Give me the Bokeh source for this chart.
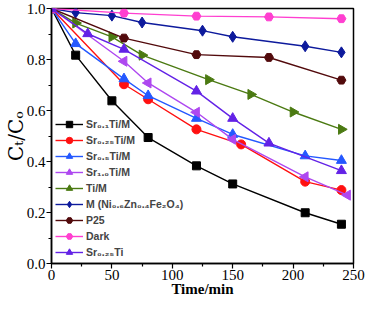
import math
from bokeh.plotting import figure
from bokeh.models import Range1d, FixedTicker, NumeralTickFormatter, Legend, LegendItem
from bokeh.embed import file_html
from bokeh.resources import INLINE

# ---- data ----
t_sr01 = [0, 20, 50, 80, 120, 150, 210, 240]
c_sr01 = [1.0, 0.817, 0.638, 0.494, 0.383, 0.312, 0.199, 0.154]

t_sr025 = [0, 60, 80, 120, 157, 210, 240]
c_sr025 = [1.0, 0.703, 0.644, 0.526, 0.467, 0.321, 0.288]

t_sr05 = [0, 20, 60, 80, 120, 150, 210, 240]
c_sr05 = [1.0, 0.862, 0.724, 0.658, 0.569, 0.506, 0.422, 0.404]

t_sr10 = [0, 60, 80, 120, 150, 210, 245]
c_sr10 = [1.0, 0.793, 0.708, 0.593, 0.487, 0.340, 0.268]

t_ti = [0, 20, 50, 75, 130, 165, 200, 240]
c_ti = [1.0, 0.943, 0.889, 0.817, 0.721, 0.663, 0.594, 0.526]

t_m = [0, 20, 50, 75, 125, 150, 210, 240]
c_m = [1.0, 0.984, 0.972, 0.945, 0.913, 0.889, 0.852, 0.828]

t_p25 = [0, 60, 120, 180, 240]
c_p25 = [1.0, 0.884, 0.819, 0.808, 0.719]

t_dark = [0, 60, 120, 180, 240]
c_dark = [1.0, 0.982, 0.970, 0.967, 0.960]

t_sr025ti = [0, 30, 60, 120, 150, 180, 240]
c_sr025ti = [1.0, 0.901, 0.840, 0.676, 0.569, 0.472, 0.364]

x_ticks = [0, 50, 100, 150, 200, 250]
x_minor = [25, 75, 125, 175, 225]
y_ticks = [0.0, 0.2, 0.4, 0.6, 0.8, 1.0]
y_minor = [0.1, 0.3, 0.5, 0.7, 0.9]

series = [
    ("Sr₀.₁Ti/M", t_sr01, c_sr01, "#000000", "square", 8, 0.0),
    ("Sr₀.₂₅Ti/M", t_sr025, c_sr025, "#FF1010", "circle", 9, 0.0),
    ("Sr₀.₅Ti/M", t_sr05, c_sr05, "#2458FF", "triangle", 10, 0.0),
    ("Sr₁.₀Ti/M", t_sr10, c_sr10, "#AE48F0", "triangle", 10, math.pi / 2),
    ("Ti/M", t_ti, c_ti, "#4B7A12", "triangle", 10, -math.pi / 2),
    ("M (Ni₀.₆Zn₀.₄Fe₂O₄)", t_m, c_m, "#0D1A9C", "diamond", 11, 0.0),
    ("P25", t_p25, c_p25, "#520A0C", "hex", 9, 0.0),
    ("Dark", t_dark, c_dark, "#FF3FD0", "hex", 9, 0.0),
    ("Sr₀.₂₅Ti", t_sr025ti, c_sr025ti, "#6322E6", "triangle", 10, 0.0),
]

p = figure(width=365, height=299, output_backend="svg", toolbar_location=None,
           x_range=Range1d(0, 250), y_range=Range1d(0, 1.0),
           min_border_top=8, min_border_right=12, min_border_left=0, min_border_bottom=0)

p.xgrid.visible = False
p.ygrid.visible = False
p.outline_line_color = "black"
p.outline_line_width = 1.5
p.background_fill_color = "white"

items = []
for label, t, c, col, mk, sz, ang in series:
    lr = p.line(t, c, line_color=col, line_width=1.4)
    sr = p.scatter(t, c, marker=mk, size=sz, angle=ang, fill_color=col, line_color=col)
    items.append(LegendItem(label=label, renderers=[lr, sr]))

legend = Legend(items=items, location=(2, 1), padding=2, margin=0, spacing=0,
                glyph_width=28, glyph_height=16, label_height=16, label_standoff=3,
                label_text_font="Liberation Sans", label_text_font_style="bold",
                label_text_font_size="10.5px", border_line_alpha=0,
                background_fill_alpha=0)
p.add_layout(legend, "center")

p.xaxis.ticker = FixedTicker(ticks=x_ticks, minor_ticks=x_minor)
p.yaxis.ticker = FixedTicker(ticks=y_ticks, minor_ticks=y_minor)
p.yaxis.formatter = NumeralTickFormatter(format="0.0")

for ax in (p.xaxis[0], p.yaxis[0]):
    ax.axis_line_width = 1.5
    ax.axis_line_color = "black"
    ax.major_tick_in = 0
    ax.major_tick_out = 5
    ax.minor_tick_in = 0
    ax.minor_tick_out = 3
    ax.major_tick_line_width = 1.2
    ax.minor_tick_line_width = 1.2
    ax.major_label_text_font = "Liberation Serif"
    ax.major_label_text_font_size = "15px"
    ax.major_label_text_color = "black"
    ax.major_label_standoff = 1
    ax.axis_label_text_color = "black"

p.xaxis.axis_label = "Time/min"
p.xaxis.axis_label_text_font = "Liberation Serif"
p.xaxis.axis_label_text_font_style = "bold"
p.xaxis.axis_label_text_font_size = "15px"
p.xaxis.axis_label_standoff = -2

p.yaxis.axis_label = "Cₜ/Cₒ"
p.yaxis.axis_label_text_font = "DejaVu Serif"
p.yaxis.axis_label_text_font_style = "normal"
p.yaxis.axis_label_text_font_size = "20px"
p.yaxis.axis_label_standoff = -4

open("out.html", "w").write(file_html(p, INLINE))
